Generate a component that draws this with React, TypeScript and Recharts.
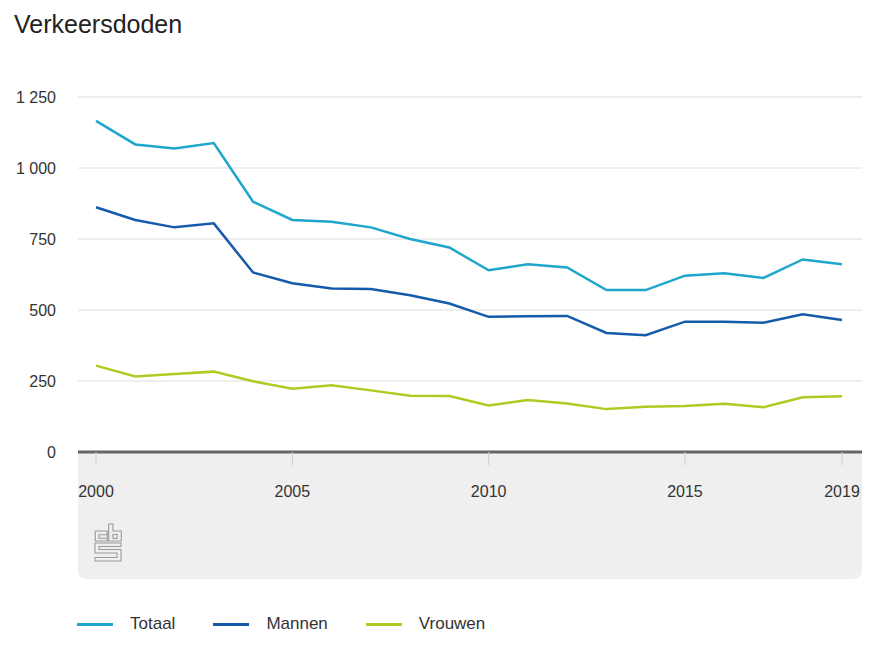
import { CartesianGrid, Legend, Line, LineChart, XAxis, YAxis } from 'recharts'

const YEARS = [
  2000, 2001, 2002, 2003, 2004, 2005, 2006, 2007, 2008, 2009, 2010, 2011, 2012, 2013, 2014,
  2015, 2016, 2017, 2018, 2019,
]
const TOTAAL = [
  1166, 1083, 1069, 1088, 881, 817, 811, 791, 750, 720, 640, 661, 650, 570, 570, 621, 629, 613,
  678, 661,
]
const MANNEN = [
  862, 817, 791, 805, 632, 594, 576, 574, 552, 523, 476, 478, 479, 419, 411, 459, 459, 455, 485,
  465,
]
const VROUWEN = [
  304, 266, 275, 283, 249, 223, 235, 217, 198, 197, 164, 183, 171, 151, 159, 162, 170, 158, 193,
  196,
]
const Y_TICKS = [0, 250, 500, 750, 1000, 1250]
const X_TICKS = [2000, 2005, 2010, 2015, 2019]

const SERIES = [
  { key: 'totaal', name: 'Totaal', color: '#1ea6cb' },
  { key: 'mannen', name: 'Mannen', color: '#155aab' },
  { key: 'vrouwen', name: 'Vrouwen', color: '#afcb22' },
]

const FONT = '"Liberation Sans", Arial, Helvetica, sans-serif'
const TEXT_COLOR = '#333'
const GRID_COLOR = '#dedede'
const PANEL_COLOR = '#efefef'

const data = YEARS.map((year, i) => ({
  year,
  totaal: TOTAAL[i],
  mannen: MANNEN[i],
  vrouwen: VROUWEN[i],
}))

const formatNumber = (value: number) => String(value).replace(/\B(?=(\d{3})+(?!\d))/g, ' ')

// cbs mark in the grey footer panel, drawn as thin outlines
function CbsLogo() {
  return (
    <svg
      width={28}
      height={39}
      viewBox="-1 -1 28 39"
      style={{ position: 'absolute', left: 16, top: 71 }}
    >
      <g fill="none" stroke="#9a9a9a" strokeWidth={1.1}>
        <path d="M12.3,7 H0.3 V17 H12.3 Z M12.3,10.7 H4 V14.2 H12.3" />
        <path d="M13.7,0 H18 V7 H26.3 V17 H13.7 Z" />
        <rect x={18} y={10.5} width={4.2} height={4} />
        <path d="M0,19 H26 V22.5 H4 V25.5 H26 V37 H0 V33.5 H22 V29 H0 Z" />
      </g>
    </svg>
  )
}

function LegendContent() {
  return (
    <div style={{ height: 0, overflow: 'visible' }}>
      <div style={{ display: 'flex', alignItems: 'center', fontFamily: FONT, fontSize: 17 }}>
        {SERIES.map((s) => (
          <div key={s.key} style={{ display: 'flex', alignItems: 'center', marginRight: 38 }}>
            <span
              style={{ display: 'inline-block', width: 36, height: 3, background: s.color }}
            />
            <span style={{ marginLeft: 17, color: TEXT_COLOR }}>{s.name}</span>
          </div>
        ))}
      </div>
    </div>
  )
}

export default function App() {
  return (
    <div
      style={{
        position: 'absolute',
        left: 0,
        top: 0,
        width: 877,
        height: 658,
        background: '#fff',
        fontFamily: FONT,
      }}
    >
      <div
        style={{
          position: 'absolute',
          left: 14,
          top: 10,
          fontSize: 25,
          color: '#222',
        }}
      >
        Verkeersdoden
      </div>
      <div
        style={{
          position: 'absolute',
          left: 78,
          top: 452,
          width: 784,
          height: 127,
          background: PANEL_COLOR,
          borderRadius: '0 0 8px 8px',
        }}
      >
        <CbsLogo />
      </div>
      <div style={{ position: 'absolute', left: 0, top: 0 }}>
        <LineChart
          width={877}
          height={658}
          data={data}
          margin={{ top: 97, right: 15, bottom: 176, left: 0 }}
          style={{ fontFamily: FONT }}
        >
          <CartesianGrid vertical={false} stroke={GRID_COLOR} />
          <XAxis
            dataKey="year"
            type="number"
            domain={[2000, 2019]}
            ticks={X_TICKS}
            padding={{ left: 18, right: 20 }}
            height={30}
            axisLine={{ stroke: '#666', strokeWidth: 3 }}
            tickLine={{ stroke: '#cccccc' }}
            tickSize={13}
            tickMargin={21}
            tick={{ fill: TEXT_COLOR, fontSize: 16 }}
          />
          <YAxis
            type="number"
            domain={[0, 1250]}
            ticks={Y_TICKS}
            width={78}
            axisLine={false}
            tickLine={false}
            tickSize={0}
            tickMargin={22}
            tick={{ fill: TEXT_COLOR, fontSize: 16 }}
            tickFormatter={formatNumber}
          />
          {SERIES.map((s) => (
            <Line
              key={s.key}
              type="linear"
              dataKey={s.key}
              name={s.name}
              stroke={s.color}
              strokeWidth={2.5}
              dot={false}
              activeDot={false}
              isAnimationActive={false}
            />
          ))}
          <Legend
            content={<LegendContent />}
            wrapperStyle={{ position: 'absolute', left: 77, top: 614, width: 600 }}
          />
        </LineChart>
      </div>
    </div>
  )
}
